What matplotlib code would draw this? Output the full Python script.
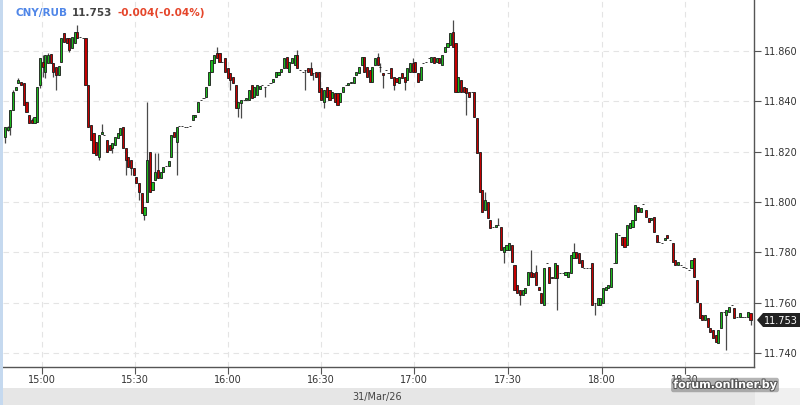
import matplotlib
matplotlib.use('Agg')
import matplotlib.pyplot as plt
import matplotlib.patheffects as pe
from matplotlib.patches import Rectangle, Polygon
from matplotlib.ticker import FormatStrFormatter

plt.rcParams['font.family'] = ['DejaVu Sans']

# 1-minute candles CNY/RUB, 31 Mar 2026
opens = [
    11.8258, 11.8286, 11.8298, 11.8366, 11.8445, 11.8473, 11.8477, 11.8473, 11.8397, 11.8346,
    11.8326, 11.8314, 11.8318, 11.8465, 11.8556, 11.8517, 11.8553, 11.8588, 11.8553, 11.8537,
    11.8505, 11.8556, 11.8672, 11.8652, 11.8652, 11.8612, 11.8632, 11.8676, 11.8656, 11.8652,
    11.8652, 11.8465, 11.8306, 11.8274, 11.8238, 11.8179, 11.8270, 11.8266, 11.8246, 11.8226,
    11.8215, 11.8226, 11.8254, 11.8266, 11.8298, 11.8215, 11.8179, 11.8167, 11.8135, 11.8099,
    11.8075, 11.8036, 11.7948, 11.8000, 11.8199, 11.8048, 11.8087, 11.8127, 11.8095, 11.8119,
    11.8143, 11.8143, 11.8179, 11.8278, 11.8238, 11.8302, 11.8302, 11.8298, 11.8298, 11.8302,
    11.8326, 11.8338, 11.8358, 11.8405, 11.8413, 11.8417, 11.8465, 11.8517, 11.8553, 11.8592,
    11.8592, 11.8556, 11.8572, 11.8533, 11.8513, 11.8497, 11.8465, 11.8374, 11.8393, 11.8405,
    11.8405, 11.8405, 11.8465, 11.8417, 11.8425, 11.8449, 11.8465, 11.8457, 11.8465, 11.8473,
    11.8477, 11.8497, 11.8505, 11.8517, 11.8533, 11.8576, 11.8517, 11.8553, 11.8545, 11.8584,
    11.8525, 11.8517, 11.8525, 11.8533, 11.8533, 11.8513, 11.8517, 11.8517, 11.8453, 11.8397,
    11.8457, 11.8445, 11.8413, 11.8433, 11.8433, 11.8397, 11.8437, 11.8465, 11.8465, 11.8473,
    11.8473, 11.8505, 11.8513, 11.8545, 11.8576, 11.8537, 11.8525, 11.8477, 11.8545, 11.8576,
    11.8537, 11.8513, 11.8525, 11.8513, 11.8533, 11.8497, 11.8493, 11.8473, 11.8513, 11.8497,
    11.8485, 11.8517, 11.8553, 11.8556, 11.8513, 11.8485, 11.8553, 11.8556, 11.8572, 11.8556,
    11.8576, 11.8556, 11.8572, 11.8545, 11.8596, 11.8616, 11.8624, 11.8676, 11.8632, 11.8437,
    11.8485, 11.8457, 11.8453, 11.8437, 11.8437, 11.8437, 11.8334, 11.8199, 11.8048, 11.7968,
    11.8000, 11.7928, 11.7900, 11.7900, 11.7908, 11.7900, 11.7801, 11.7809, 11.7809, 11.7829,
    11.7749, 11.7670, 11.7650, 11.7630, 11.7638, 11.7670, 11.7722, 11.7718, 11.7722, 11.7662,
    11.7638, 11.7590, 11.7757, 11.7741, 11.7702, 11.7698, 11.7749, 11.7718, 11.7718, 11.7710,
    11.7702, 11.7718, 11.7777, 11.7801, 11.7797, 11.7769, 11.7737, 11.7737, 11.7737, 11.7757,
    11.7598, 11.7590, 11.7590, 11.7598, 11.7650, 11.7658, 11.7662, 11.7757, 11.7757, 11.7869,
    11.7861, 11.7861, 11.7829, 11.7897, 11.7900, 11.7928, 11.7980, 11.7960, 11.7992, 11.7968,
    11.7936, 11.7928, 11.7940, 11.7869, 11.7841, 11.7837, 11.7849, 11.7869, 11.7849, 11.7837,
    11.7769, 11.7749, 11.7749, 11.7741, 11.7737, 11.7729, 11.7737, 11.7777, 11.7690, 11.7598,
    11.7551, 11.7531, 11.7539, 11.7499, 11.7491, 11.7471, 11.7439, 11.7499, 11.7562, 11.7551,
    11.7562, 11.7590, 11.7578, 11.7543, 11.7543, 11.7543, 11.7543, 11.7543, 11.7558,
]
closes = [
    11.8298, 11.8298, 11.8366, 11.8437, 11.8457, 11.8485, 11.8465, 11.8385, 11.8358, 11.8314,
    11.8314, 11.8338, 11.8457, 11.8572, 11.8537, 11.8584, 11.8584, 11.8553, 11.8517, 11.8505,
    11.8541, 11.8652, 11.8636, 11.8632, 11.8604, 11.8656, 11.8676, 11.8652, 11.8656, 11.8652,
    11.8465, 11.8298, 11.8246, 11.8195, 11.8187, 11.8266, 11.8278, 11.8266, 11.8199, 11.8207,
    11.8234, 11.8258, 11.8274, 11.8294, 11.8215, 11.8167, 11.8139, 11.8135, 11.8107, 11.8075,
    11.8040, 11.7956, 11.7980, 11.8167, 11.8040, 11.8079, 11.8119, 11.8095, 11.8119, 11.8139,
    11.8143, 11.8163, 11.8266, 11.8258, 11.8298, 11.8302, 11.8302, 11.8298, 11.8298, 11.8302,
    11.8346, 11.8346, 11.8397, 11.8405, 11.8413, 11.8457, 11.8517, 11.8564, 11.8584, 11.8572,
    11.8556, 11.8556, 11.8517, 11.8493, 11.8485, 11.8473, 11.8374, 11.8397, 11.8405, 11.8405,
    11.8413, 11.8445, 11.8413, 11.8457, 11.8465, 11.8461, 11.8465, 11.8457, 11.8465, 11.8473,
    11.8489, 11.8517, 11.8517, 11.8529, 11.8572, 11.8533, 11.8556, 11.8572, 11.8584, 11.8533,
    11.8525, 11.8517, 11.8525, 11.8517, 11.8505, 11.8513, 11.8497, 11.8437, 11.8405, 11.8445,
    11.8417, 11.8405, 11.8437, 11.8397, 11.8385, 11.8433, 11.8457, 11.8465, 11.8473, 11.8477,
    11.8497, 11.8517, 11.8537, 11.8576, 11.8517, 11.8497, 11.8477, 11.8537, 11.8572, 11.8545,
    11.8537, 11.8505, 11.8525, 11.8513, 11.8493, 11.8465, 11.8477, 11.8497, 11.8493, 11.8477,
    11.8533, 11.8553, 11.8517, 11.8517, 11.8477, 11.8537, 11.8553, 11.8556, 11.8572, 11.8576,
    11.8553, 11.8572, 11.8553, 11.8584, 11.8616, 11.8632, 11.8672, 11.8616, 11.8437, 11.8497,
    11.8437, 11.8437, 11.8433, 11.8417, 11.8437, 11.8338, 11.8195, 11.8040, 11.7960, 11.8008,
    11.7936, 11.7897, 11.7900, 11.7908, 11.7908, 11.7809, 11.7821, 11.7829, 11.7837, 11.7761,
    11.7650, 11.7638, 11.7630, 11.7650, 11.7658, 11.7722, 11.7702, 11.7702, 11.7670, 11.7650,
    11.7598, 11.7737, 11.7757, 11.7678, 11.7698, 11.7757, 11.7698, 11.7718, 11.7718, 11.7722,
    11.7722, 11.7789, 11.7801, 11.7777, 11.7757, 11.7741, 11.7737, 11.7737, 11.7737, 11.7590,
    11.7598, 11.7618, 11.7618, 11.7658, 11.7662, 11.7670, 11.7737, 11.7757, 11.7877, 11.7869,
    11.7829, 11.7821, 11.7908, 11.7916, 11.7928, 11.7988, 11.7960, 11.7976, 11.7992, 11.7940,
    11.7920, 11.7936, 11.7881, 11.7841, 11.7841, 11.7837, 11.7857, 11.7857, 11.7849, 11.7761,
    11.7749, 11.7761, 11.7749, 11.7741, 11.7737, 11.7729, 11.7769, 11.7702, 11.7602, 11.7539,
    11.7531, 11.7551, 11.7503, 11.7483, 11.7459, 11.7443, 11.7491, 11.7562, 11.7562, 11.7570,
    11.7582, 11.7590, 11.7539, 11.7543, 11.7558, 11.7543, 11.7543, 11.7562, 11.7530,
]
# candles whose wicks reach beyond the body (index: price)
wick_high = {1: 11.8302, 3: 11.8445, 5: 11.8493, 10: 11.8334, 14: 11.8584, 16: 11.8592,
             27: 11.8704, 36: 11.8310, 53: 11.8397, 56: 11.8195, 57: 11.8195, 79: 11.8616,
             109: 11.8604, 114: 11.8556, 139: 11.8592, 140: 11.8553, 152: 11.8572,
             167: 11.8723, 179: 11.8040, 184: 11.7936, 196: 11.7809, 198: 11.7749,
             212: 11.7837}
wick_low = {0: 11.8234, 1: 11.8282, 2: 11.8266, 13: 11.8453, 14: 11.8497, 15: 11.8493,
            18: 11.8497, 19: 11.8445, 24: 11.8596, 35: 11.8167, 40: 11.8195, 45: 11.8107,
            47: 11.8107, 50: 11.8008, 52: 11.7928, 64: 11.8107, 84: 11.8445, 87: 11.8338,
            88: 11.8334, 97: 11.8417, 112: 11.8445, 115: 11.8485, 119: 11.8374,
            140: 11.8517, 141: 11.8453, 145: 11.8445, 149: 11.8445, 172: 11.8346,
            186: 11.7757, 192: 11.7590, 206: 11.7570, 220: 11.7551, 269: 11.7411,
            278: 11.7511}

tick_pos = [13.8, 48.4, 83.1, 117.8, 152.4, 187.5, 222.5, 253.4]
tick_labels = ['15:00', '15:30', '16:00', '16:30', '17:00', '17:30', '18:00', '18:30']
price_ticks = [11.74, 11.76, 11.78, 11.80, 11.82, 11.84, 11.86]
last_price = 11.753

n = len(closes)
xs = list(range(n))
highs = [wick_high.get(i, max(o, c)) for i, (o, c) in enumerate(zip(opens, closes))]
lows = [wick_low.get(i, min(o, c)) for i, (o, c) in enumerate(zip(opens, closes))]

W, H = 800, 405
fig = plt.figure(figsize=(8, 4.05), dpi=100)
fig.patch.set_facecolor('white')

def fx(px):
    return px / W

def fy(py):
    return 1 - py / H

ax = fig.add_axes([fx(3), fy(367), fx(754) - fx(3), fy(0) - fy(367)])

# wicks and bodies
ax.vlines(xs, lows, highs, color='#4a4a4a', linewidth=0.9, zorder=2)
bottoms, heights, colors = [], [], []
for o, c in zip(opens, closes):
    if c > o:
        colors.append('#1db81d')
    elif c < o:
        colors.append('#c40000')
    else:
        colors.append('#333333')
    h = max(abs(c - o), 0.00025)
    bottoms.append((o + c) / 2 - h / 2)
    heights.append(h)
ax.bar(xs, heights, bottom=bottoms, width=0.78, color=colors,
       edgecolor='#1a1a1a', linewidth=0.6, zorder=3)

ax.set_xlim(-0.75, 279.3)
ax.set_ylim(11.7344, 11.8803)

ax.yaxis.tick_right()
ax.set_yticks(price_ticks)
ax.yaxis.set_major_formatter(FormatStrFormatter('%.3f'))
ax.set_xticks(tick_pos)
ax.set_xticklabels(tick_labels)
ax.tick_params(axis='both', direction='out', length=5, width=0.8, color='#555555',
               labelsize=7, labelcolor='#333333')
ax.tick_params(axis='y', pad=2)
ax.tick_params(axis='x', pad=1)

ax.grid(True, color='#e4e4e4', linestyle=(0, (5, 4)), linewidth=0.8, zorder=0)
ax.set_axisbelow(True)
for s in ['top', 'left']:
    ax.spines[s].set_visible(False)
for s in ['bottom', 'right']:
    ax.spines[s].set_color('#555555')
    ax.spines[s].set_linewidth(1)

# left blue border and bottom date band
fig.add_artist(Rectangle((0, 0), fx(3), 1, transform=fig.transFigure,
                         facecolor='#c5d9ef', edgecolor='none'))
fig.add_artist(Rectangle((fx(3), 0), fx(755) - fx(3), fy(388), transform=fig.transFigure,
                         facecolor='#e6e6e6', edgecolor='none'))
fig.add_artist(Rectangle((fx(755), 0), 1 - fx(755), fy(388), transform=fig.transFigure,
                         facecolor='#f0f0f0', edgecolor='none'))
fig.text(fx(377), fy(397), '31/Mar/26', fontsize=7, color='#444444',
         ha='center', va='center')

# header
fig.text(fx(16), fy(13), 'CNY/RUB', fontsize=7.5, fontweight='bold', color='#4f86e8',
         ha='left', va='center')
fig.text(fx(72), fy(13), '11.753', fontsize=7.5, fontweight='bold', color='#444444',
         ha='left', va='center')
fig.text(fx(118), fy(13), '-0.004(-0.04%)', fontsize=7.5, fontweight='bold',
         color='#e5452a', ha='left', va='center')

# current price tag
fig.add_artist(Polygon([(fx(757), fy(320)), (fx(763), fy(313)), (fx(800), fy(313)),
                        (fx(800), fy(327)), (fx(763), fy(327))],
                       closed=True, transform=fig.transFigure,
                       facecolor='#222222', edgecolor='none'))
fig.text(fx(781), fy(320.5), '%.3f' % last_price, fontsize=7, color='white',
         ha='center', va='center')

# watermark
fig.text(fx(725), fy(385), 'forum.onliner.by', fontsize=8, color='white',
         fontweight='bold', ha='center', va='center',
         bbox=dict(boxstyle='round,pad=0.2', facecolor='#777777', alpha=0.55,
                   edgecolor='none'),
         path_effects=[pe.withStroke(linewidth=1.5, foreground='#555555')])

fig.savefig('out.png', dpi=100)
